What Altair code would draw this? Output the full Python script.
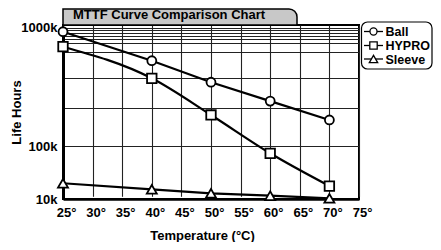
import altair as alt
import pandas as pd

# ---- data ----
temps = [25, 40, 50, 60, 70]
series_names = ["Ball", "HYPRO", "Sleeve"]
ball_hours = [848000, 366000, 285000, 222000, 168000]
hypro_hours = [459000, 298000, 181000, 87600, 32000]
sleeve_hours = [36700, 26500, 19700, 15600, 11200]

x_ticks = [25, 30, 35, 40, 45, 50, 55, 60, 65, 70, 75]
y_grid = [10000, 100000, 200000, 300000, 400000, 500000,
          600000, 700000, 800000, 900000, 1000000]
# hand-drawn (non-standard) vertical spacing of the original grid, px from top of plot
y_grid_px = [174, 121, 82.7, 52.7, 27, 18, 14, 10.7, 8.3, 5, 2.7]

chart_title = "MTTF Curve Comparison Chart"
x_title = "Temperature (°C)"
y_title = "Life Hours"

rows = []
for name, vals in zip(series_names, [ball_hours, hypro_hours, sleeve_hours]):
    for t, v in zip(temps, vals):
        rows.append({"series": name, "temp": t, "hours": v})
df = pd.DataFrame(rows)

FONT = "Liberation Sans"
W, H = 296, 174

shapes = ["circle", "square", "triangle-up"]
sizes = [80, 100, 110]

common_axis = dict(
    labelFont=FONT, labelFontSize=13, labelFontWeight="bold", labelColor="black",
    titleFont=FONT, titleFontSize=13, titleFontWeight="bold", titleColor="black",
    gridColor="#222222", gridWidth=1.1, gridOpacity=1, ticks=False, grid=True,
    domainColor="black", labelFlush=False,
)

x_enc = alt.X(
    "temp:Q",
    scale=alt.Scale(domain=[25, 75], nice=False, zero=False),
    axis=alt.Axis(
        values=x_ticks, labelExpr="datum.value + '°'",
        labelPadding=7, labelOffset=3, title=x_title, titleX=139, titleY=36,
        titleBaseline="middle", titleAlign="center", domainWidth=2.5,
        **common_axis,
    ),
)
y_enc = alt.Y(
    "hours:Q",
    scale=alt.Scale(type="linear", domain=y_grid, range=y_grid_px, zero=False, nice=False),
    axis=alt.Axis(
        values=y_grid,
        labelExpr="datum.value == 10000 ? '10k' : datum.value == 100000 ? '100k' : datum.value == 1000000 ? '1000k' : ''",
        labelPadding=6, title=y_title,
        titleX=-46.5, titleY=87, titleAngle=270, titleBaseline="middle", titleAlign="center",
        domainWidth=3, **common_axis,
    ),
)

base = alt.Chart(df)
layers = []
for name in series_names:
    interp = "monotone" if name == "HYPRO" else "linear"
    layers.append(
        base.transform_filter(alt.datum.series == name)
        .mark_line(color="black", strokeWidth=2.2, interpolate=interp)
        .encode(x=x_enc, y=y_enc)
    )

points = base.mark_point(filled=True, fill="white", stroke="black", strokeWidth=1.8, opacity=1).encode(
    x=x_enc,
    y=y_enc,
    shape=alt.Shape("series:N", scale=alt.Scale(domain=series_names, range=shapes), legend=None),
    size=alt.Size("series:N", scale=alt.Scale(domain=series_names, range=sizes), legend=None),
)
layers.append(points)

one = pd.DataFrame({"a": [0]})

# title tab
tab = alt.Chart(one).mark_rect(fill="#c8c8c8", stroke="black", strokeWidth=1.5, cornerRadiusTopRight=20).encode(
    x=alt.value(0), x2=alt.value(234), y=alt.value(-16), y2=alt.value(0)
)
tab_text = alt.Chart(one).mark_text(
    text=chart_title, align="left", baseline="alphabetic", font=FONT, fontSize=13, fontWeight="bold", color="black"
).encode(x=alt.value(10), y=alt.value(-6.5))
layers += [tab, tab_text]

# legend box
leg_box = alt.Chart(one).mark_rect(fill="white", stroke="black", strokeWidth=1.2, cornerRadius=6).encode(
    x=alt.value(298.5), x2=alt.value(369), y=alt.value(-3), y2=alt.value(44)
)
layers.append(leg_box)
leg_y = [6.5, 20.5, 34]
leg_sizes = [50, 55, 70]
for name, shp, sz, yy in zip(series_names, shapes, leg_sizes, leg_y):
    layers.append(alt.Chart(one).mark_rule(color="black", strokeWidth=1.3).encode(
        x=alt.value(301), x2=alt.value(320), y=alt.value(yy)))
    layers.append(alt.Chart(one).mark_point(shape=shp, size=sz, filled=True, fill="white", stroke="black",
                                            strokeWidth=1.3, opacity=1).encode(x=alt.value(310.5), y=alt.value(yy)))
    layers.append(alt.Chart(one).mark_text(text=name, align="left", baseline="middle", font=FONT, fontSize=12.5,
                                           fontWeight="bold", color="black").encode(x=alt.value(322.5), y=alt.value(yy + 0.5)))

chart = alt.layer(*layers).properties(
    width=W, height=H,
    background="white",
    autosize=alt.AutoSizeParams(type="none"),
    padding={"left": 55, "top": 17, "right": 74, "bottom": 43},
).configure_view(stroke="black", strokeWidth=2)

chart.save("out.html", embed_options={"renderer": "svg", "actions": False})
